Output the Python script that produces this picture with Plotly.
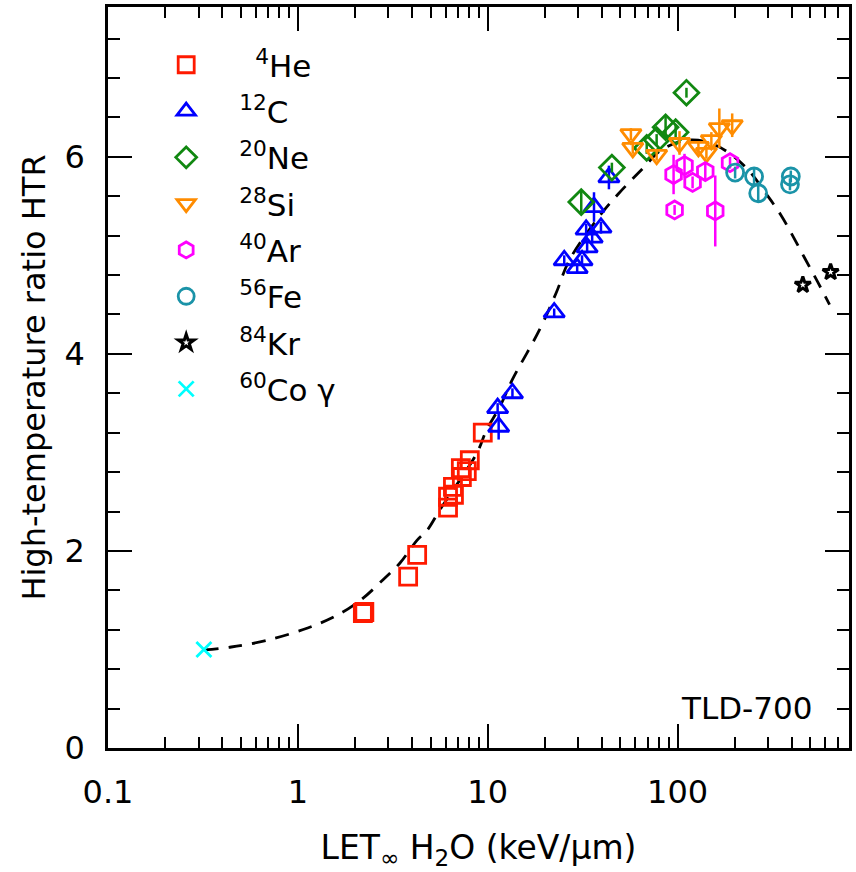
import plotly.graph_objects as go

# ---- data ----
he_x = [2.24, 2.2, 3.81, 4.25, 6.18, 6.18, 6.56, 6.64, 7.31, 7.22, 7.76, 8.05, 9.42]
he_y = [1.38, 1.37, 1.74, 1.96, 2.44, 2.55, 2.65, 2.57, 2.75, 2.84, 2.81, 2.92, 3.20]

c_x = [11.42, 11.28, 13.5, 22.4, 25.3, 29.6, 31.4, 33.4, 33.0, 35.5, 39.5, 36.3, 43.5]
c_y = [3.26, 3.45, 3.60, 4.42, 4.95, 4.87, 4.95, 5.08, 5.26, 5.18, 5.28, 5.49, 5.79]
c_err = [0.13, 0.05, 0.05, 0.04, 0.05, 0.05, 0.05, 0.06, 0.06, 0.06, 0.06, 0.15, 0.12]

ne_x = [31.1, 45.1, 68.8, 77.6, 86.5, 97.7, 111.4]
ne_y = [5.54, 5.89, 6.09, 6.17, 6.30, 6.25, 6.65]
ne_err = [0.12, 0.05, 0.06, 0.06, 0.12, 0.08, 0.05]

si_x = [56.8, 58.1, 77.6, 102.4, 128.8, 141.9, 150.7, 166.0, 194.0]
si_y = [6.23, 6.09, 6.02, 6.14, 6.10, 6.04, 6.17, 6.29, 6.32]
si_err = [0.06, 0.06, 0.06, 0.12, 0.06, 0.06, 0.08, 0.20, 0.12]

ar_x = [95.3, 108.8, 120.0, 140.0, 96.5, 158.0, 189.0]
ar_y = [5.82, 5.91, 5.74, 5.85, 5.46, 5.45, 5.94]
ar_err = [0.20, 0.12, 0.06, 0.08, 0.05, 0.36, 0.06]

fe_x = [201, 253, 266, 395, 391]
fe_y = [5.84, 5.80, 5.63, 5.80, 5.72]
fe_err = [0.06, 0.08, 0.08, 0.06, 0.06]

kr_x = [457, 640]
kr_y = [4.70, 4.83]

co_x = [0.32]
co_y = [1.0]

fit_x = [0.322, 0.446, 0.697, 1.127, 1.62, 2.14, 2.82, 3.46, 4.25, 4.80, 5.61, 8.75,
         9.88, 11.56, 13.5, 18.7, 22.96, 26.9, 38.5, 49.1, 64.8, 82.5, 114, 158, 227,
         299, 350, 396, 468, 547, 632]
fit_y = [0.995, 1.025, 1.096, 1.218, 1.35, 1.50, 1.71, 1.88, 2.11, 2.21, 2.42, 2.99,
         3.23, 3.46, 3.74, 4.24, 4.62, 4.95, 5.39, 5.63, 5.87, 6.07, 6.17, 6.12, 5.90,
         5.60, 5.41, 5.23, 4.97, 4.73, 4.50]

x_ticks = [0.1, 1, 10, 100]
x_ticktext = ["0.1", "1", "10", "100"]
y_ticks = [0, 2, 4, 6]

FONT = "DejaVu Sans"

fig = go.Figure()

fig.add_trace(go.Scatter(x=fit_x, y=fit_y, mode="lines", line_shape="spline",
                         line=dict(color="black", width=2.8, dash="14px,10px"),
                         showlegend=False, hoverinfo="skip"))

def add(name, x, y, symbol, color, err=None, size=16, lw=2.8):
    kw = {}
    if err is not None:
        kw["error_y"] = dict(type="data", array=err, visible=True, color=color,
                             thickness=2.5, width=0)
    fig.add_trace(go.Scatter(x=x, y=y, mode="markers", name=name, legendgroup=name,
                             marker=dict(symbol=symbol, size=size, color=color,
                                         line=dict(color=color, width=lw)), **kw))

add("&nbsp;&#8201;<sup>4</sup>He", he_x, he_y, "square-open", "#ff1a00", size=17)
add("<sup>12</sup>C", c_x, c_y, "triangle-up-open", "#0000ff", c_err, size=18)
add("<sup>20</sup>Ne", ne_x, ne_y, "diamond-open", "#118811", ne_err, size=19)
add("<sup>28</sup>Si", si_x, si_y, "triangle-down-open", "#ff8c00", si_err, size=18)
add("<sup>40</sup>Ar", ar_x, ar_y, "hexagon-open", "#ff00ff", ar_err, size=18)
add("<sup>56</sup>Fe", fe_x, fe_y, "circle-open", "#1a93a8", fe_err, size=17)
add("<sup>84</sup>Kr", kr_x, kr_y, "star-open", "#000000", size=12, lw=3)
add("<sup>60</sup>Co γ", co_x, co_y, "x-thin-open", "#00ffff", size=15, lw=2.8)

minor_x = [m * 10 ** e for e in (-1, 0, 1, 2) for m in range(2, 10) if m * 10 ** e <= 800]

fig.update_xaxes(type="log", range=[-1, 2.90309], tickvals=x_ticks, ticktext=x_ticktext,
                 ticks="inside", ticklen=24, tickwidth=2, tickcolor="black",
                 showline=True, linecolor="black", linewidth=2.5, mirror="allticks",
                 showgrid=False, zeroline=False, ticklabelstandoff=14,
                 tickfont=dict(family=FONT, size=32, color="black"),
                 minor=dict(tickvals=minor_x, ticks="inside", ticklen=11, tickwidth=2,
                            tickcolor="black", showgrid=False),
                 title=dict(text="LET<sub>∞</sub> H<sub>2</sub>O (keV/µm)",
                            font=dict(family=FONT, size=33, color="black"), standoff=26))
fig.update_yaxes(range=[0, 7.52], tickvals=y_ticks,
                 ticks="inside", ticklen=24, tickwidth=2, tickcolor="black",
                 showline=True, linecolor="black", linewidth=2.5, mirror="allticks",
                 showgrid=False, zeroline=False, ticklabelstandoff=14,
                 tickfont=dict(family=FONT, size=32, color="black"),
                 minor=dict(dtick=0.4, tick0=0, ticks="inside", ticklen=12, tickwidth=2,
                            tickcolor="black", showgrid=False),
                 title=dict(text="High-temperature ratio HTR",
                            font=dict(family=FONT, size=32, color="black"), standoff=10))

fig.add_annotation(text="TLD-700", x=0.953, y=0.054, xref="paper", yref="paper",
                   xanchor="right", yanchor="middle", showarrow=False,
                   font=dict(family=FONT, size=31, color="black"))

fig.update_layout(width=856, height=872, plot_bgcolor="white", paper_bgcolor="white",
                  margin=dict(l=108, r=4, t=5, b=124),
                  legend=dict(x=0.034, y=0.958, xanchor="left", yanchor="top",
                              bgcolor="rgba(0,0,0,0)", tracegroupgap=3, itemwidth=96,
                              font=dict(family=FONT, size=31, color="black")))

fig.write_html("out.html")
